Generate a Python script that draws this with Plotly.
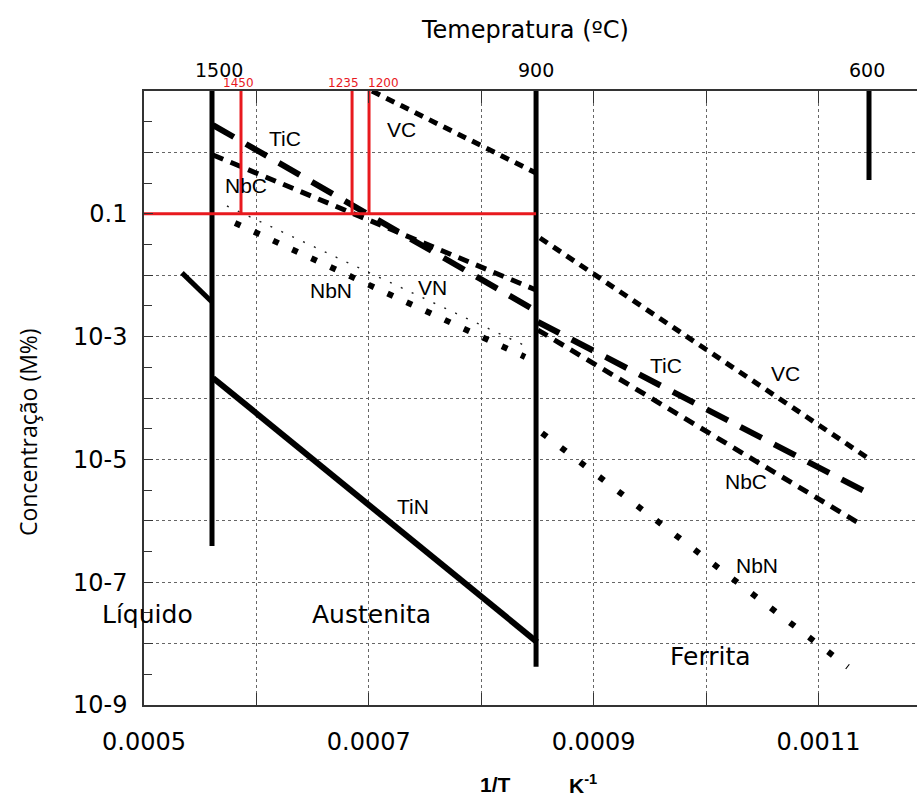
import plotly.graph_objects as go

# ---------------- axis ticks ----------------
x_ticks = [0.0005, 0.0006, 0.0007, 0.0008, 0.0009, 0.0010, 0.0011]
x_ticktext = ["0.0005", "", "0.0007", "", "0.0009", "", "0.0011"]
y_ticks = [1e1, 1e0, 1e-1, 1e-2, 1e-3, 1e-4, 1e-5, 1e-6, 1e-7, 1e-8, 1e-9]
y_ticktext = ["", "", "0.1", "", "10-3", "", "10-5", "", "10-7", "", "10-9"]
y_minor = [3.16, 0.316, 0.0316, 3.16e-3, 3.16e-4, 3.16e-5, 3.16e-6, 3.16e-7, 3.16e-8, 3.16e-9]

# ---------------- temperature markers ----------------
temp_black = ["1500", "900", "600"]
temp_black_x = [0.0005605, 0.0008488, 0.001145]
temp_black_ymin = [3.9e-7, 4.2e-9, 0.355]
temp_red = ["1450", "1235", "1200"]
temp_red_x = [0.0005863, 0.0006851, 0.0007002]
conc_ref = 0.1
y_top = 10.0

# ---------------- solubility lines (1/T, concentration) ----------------
tin_liq_x = [0.0005338, 0.0005605]
tin_liq_y = [1.09e-2, 3.66e-3]
tin_aus_x = [0.0005614, 0.0008497]
tin_aus_y = [2.12e-4, 1.06e-8]

tic_aus_x = [0.0005614, 0.0008488]
tic_aus_y = [2.79, 2.61e-3]
tic_fer_x = [0.0008505, 0.0011441]
tic_fer_y = [1.73e-3, 2.84e-6]

nbc_aus_x = [0.0005614, 0.0008488]
nbc_aus_y = [0.908, 5.74e-3]
nbc_fer_x = [0.0008505, 0.0011343]
nbc_fer_y = [1.28e-3, 9.55e-7]

vc_aus_x = [0.0007028, 0.0008488]
vc_aus_y = [10.0, 0.461]
vc_fer_x = [0.0008523, 0.0011441]
vc_fer_y = [4.04e-2, 1.05e-5]

vn_aus_x = [0.0005738, 0.0008434]
vn_aus_y = [0.134, 6.52e-4]

nbn_aus_x = [0.000581, 0.000839]
nbn_aus_y = [7.08e-2, 4.66e-4]
nbn_fer_x = [0.0008541, 0.0011263]
nbn_fer_y = [2.69e-5, 4.16e-9]

# ---------------- labels ----------------
curve_labels = ["TiC", "VC", "NbC", "NbN", "VN", "TiN", "TiC", "VC", "NbC", "NbN"]
curve_label_x = [0.0006254, 0.0007295, 0.0005907, 0.0006664, 0.0007571, 0.0007393,
                 0.0009644, 0.0010703, 0.0010356, 0.0010454]
curve_label_logy = [0.2345, 0.365, -0.547, -2.257, -2.208, -5.759, -3.463, -3.593, -5.352, -6.72]
phase_labels = ["Líquido", "Austenita", "Ferrita"]
phase_label_x = [0.0005027, 0.0007028, 0.0010036]
phase_label_logy = [-7.518, -7.518, -8.218]

BLACK = "#000000"
RED = "#e8191e"

fig = go.Figure()


def seg(x, y, width, dash="solid", color=BLACK):
    fig.add_trace(go.Scatter(x=x, y=y, mode="lines",
                             line=dict(color=color, width=width, dash=dash),
                             hoverinfo="skip", showlegend=False))


# curves
seg(vn_aus_x, vn_aus_y, 1.4, "2px,10px", "#222")
seg(nbn_aus_x, nbn_aus_y, 6, "6px,15px")
seg(nbn_fer_x, nbn_fer_y, 6, "6px,18px")
seg(vc_aus_x, vc_aus_y, 5, "9px,7px")
seg(vc_fer_x, vc_fer_y, 5, "9px,7px")
seg(nbc_aus_x, nbc_aus_y, 5, "11px,8px")
seg(nbc_fer_x, nbc_fer_y, 5, "11px,8px")
seg(tic_aus_x, tic_aus_y, 6, "24px,14px")
seg(tic_fer_x, tic_fer_y, 6, "24px,14px")
seg(tin_liq_x, tin_liq_y, 5)
seg(tin_aus_x, tin_aus_y, 6)

# black temperature lines
for xv, ymin in zip(temp_black_x, temp_black_ymin):
    seg([xv, xv], [y_top, ymin], 5)

# red reference lines
seg([x_ticks[0], temp_black_x[1]], [conc_ref, conc_ref], 3, color=RED)
for xv in temp_red_x:
    seg([xv, xv], [y_top, conc_ref], 3, color=RED)

annotations = []
for t, xv, sh in zip(temp_black, temp_black_x, [7, 0, -2]):
    annotations.append(dict(x=xv, y=1.0345, xref="x", yref="paper", text=t,
                            showarrow=False, xshift=sh, xanchor="center", yanchor="middle",
                            font=dict(family="DejaVu Sans", size=19, color=BLACK)))
for t, xv, sh in zip(temp_red, temp_red_x, [-3, -9, 14]):
    annotations.append(dict(x=xv, y=1.0135, xref="x", yref="paper", text=t,
                            showarrow=False, xshift=sh, xanchor="center", yanchor="middle",
                            font=dict(family="DejaVu Sans", size=12, color=RED)))
for t, xv, ly in zip(curve_labels, curve_label_x, curve_label_logy):
    annotations.append(dict(x=xv, y=ly, xref="x", yref="y", text=t, showarrow=False,
                            xanchor="center", yanchor="middle",
                            font=dict(family="Liberation Sans", size=21, color=BLACK)))
for t, xv, ly in zip(phase_labels, phase_label_x, phase_label_logy):
    annotations.append(dict(x=xv, y=ly, xref="x", yref="y", text=t, showarrow=False,
                            xanchor="center", yanchor="middle",
                            font=dict(family="DejaVu Sans", size=25, color=BLACK)))

annotations.append(dict(x=0.493, y=1.099, xref="paper", yref="paper",
                        text="Temepratura (ºC)", showarrow=False,
                        xanchor="center", yanchor="middle",
                        font=dict(family="DejaVu Sans", size=24, color=BLACK)))
annotations.append(dict(x=-0.150, y=0.4446, xref="paper", yref="paper",
                        text="Concentração (M%)", showarrow=False, textangle=-90,
                        xanchor="center", yanchor="middle",
                        font=dict(family="Open Sans", size=23, color=BLACK)))
annotations.append(dict(x=(495 - 144) / 773, y=-0.1290, xref="paper", yref="paper",
                        text="<b>1/T</b>", showarrow=False,
                        xanchor="center", yanchor="middle",
                        font=dict(family="Liberation Sans", size=21, color=BLACK)))
annotations.append(dict(x=(583 - 144) / 773, y=-0.1290, xref="paper", yref="paper",
                        text="<b>K<sup>-1</sup></b>", showarrow=False,
                        xanchor="center", yanchor="middle",
                        font=dict(family="Liberation Sans", size=21, color=BLACK)))

fig.update_layout(
    width=917, height=798,
    margin=dict(l=144, r=0, t=91, b=93),
    paper_bgcolor="white", plot_bgcolor="white",
    showlegend=False,
    annotations=annotations,
    xaxis=dict(
        range=[0.0005, 0.0011877], tickmode="array", tickvals=x_ticks, ticktext=x_ticktext,
        showgrid=True, gridcolor="#666", griddash="dot", gridwidth=1,
        showline=True, linecolor="#333", linewidth=1.5, mirror="ticks",
        ticks="inside", ticklen=12, tickcolor="#333", tickwidth=1.2,
        tickfont=dict(family="DejaVu Sans", size=24, color=BLACK),
        ticklabelstandoff=14, zeroline=False,
    ),
    yaxis=dict(
        type="log", range=[-9, 1], tickmode="array", tickvals=y_ticks, ticktext=y_ticktext,
        showgrid=True, gridcolor="#666", griddash="dot", gridwidth=1,
        showline=True, linecolor="#333", linewidth=1.5,
        ticks="inside", ticklen=9, tickcolor="#333", tickwidth=1.2,
        minor=dict(tickmode="array", tickvals=y_minor, ticks="inside", ticklen=8,
                   tickcolor="#333", showgrid=False),
        tickfont=dict(family="DejaVu Sans", size=24, color=BLACK),
        ticklabelstandoff=10, zeroline=False,
    ),
)

fig.write_html("out.html")
